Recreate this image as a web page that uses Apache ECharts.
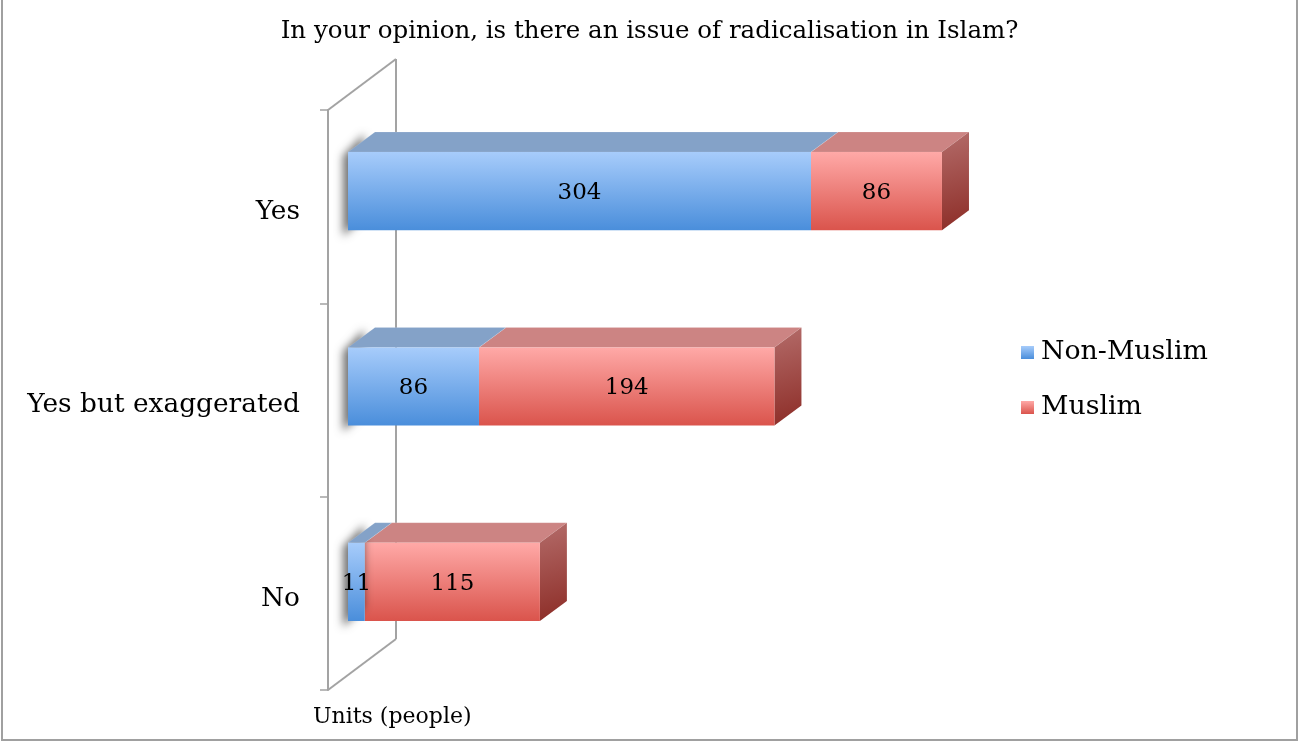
<!DOCTYPE html>
<html>
<head>
<meta charset="utf-8">
<script src="https://cdn.jsdelivr.net/npm/echarts@6/dist/echarts.min.js"></script>
<style>html,body{margin:0;padding:0;background:#fff}#c{width:1299px;height:742px}</style>
</head>
<body>
<div id="c"></div>
<script>
const title = 'In your opinion, is there an issue of radicalisation in Islam?';
const categories = ['Yes', 'Yes but exaggerated', 'No'];
const seriesNames = ['Non-Muslim', 'Muslim'];
const nonMuslim = [304, 86, 11];
const muslim = [86, 194, 115];
const axisTitle = 'Units (people)';

const SERIF = '"DejaVu Serif", "Liberation Serif", serif';
const DX = 27, DY = -20;
const FAR = 3000;

const blueFront = new echarts.graphic.LinearGradient(0,0,0,1,[{offset:0,color:'#a7ccfb'},{offset:1,color:'#4a8edb'}]);
const redFront = new echarts.graphic.LinearGradient(0,0,0,1,[{offset:0,color:'#ffa9a7'},{offset:1,color:'#da544c'}]);
const palettes = [
  {front: blueFront, top: '#84a2c8', side: new echarts.graphic.LinearGradient(0,0,1,1,[{offset:0,color:'#7f9cc4'},{offset:1,color:'#3b6ea8'}])},
  {front: redFront, top: '#cc8483', side: new echarts.graphic.LinearGradient(0,0,1,1,[{offset:0,color:'#b46c6a'},{offset:1,color:'#8c2c26'}])}
];

function buildData(vals, starts) {
  return vals.map((v, i) => [starts ? starts[i] : 0, (starts ? starts[i] : 0) + v, i, v]);
}
const dataNon = buildData(nonMuslim, null);
const dataMus = buildData(muslim, nonMuslim);

function makeRender(sIdx, isFirst, isLast) {
  return function (params, api) {
    const x0v = api.value(0), x1v = api.value(1), ci = api.value(2), v = api.value(3);
    const p0 = api.coord([x0v, ci]);
    const p1 = api.coord([x1v, ci]);
    const bh = api.size([0, 1])[1] * 0.4;
    const yT = p0[1] - bh / 2, yB = p0[1] + bh / 2;
    const xa = p0[0], xb = p1[0];
    const pal = palettes[sIdx];
    const children = [];
    if (isFirst) {
      const sx = xa - 5 - FAR, sy = 6;
      children.push({
        type: 'polygon',
        shape: {points: [[sx, yT + sy - 2], [sx + DX - 6, yT + DY + sy - 4], [sx + DX - 6, yB + DY + sy], [sx, yB + sy]]},
        style: {fill: '#000', shadowBlur: 9, shadowColor: 'rgba(0,0,0,0.55)', shadowOffsetX: FAR, shadowOffsetY: 0},
        z2: 0
      });
    }
    children.push({
      type: 'polygon',
      shape: {points: [[xa, yT], [xa + DX, yT + DY], [xb + DX, yT + DY], [xb, yT]]},
      style: {fill: pal.top, stroke: 'rgba(255,255,255,0.25)', lineWidth: 0.5},
      z2: 1
    });
    children.push({
      type: 'rect',
      shape: {x: xa, y: yT, width: xb - xa, height: yB - yT},
      style: {fill: pal.front},
      z2: 2
    });
    if (isLast) {
      children.push({
        type: 'polygon',
        shape: {points: [[xb, yT], [xb + DX, yT + DY], [xb + DX, yB + DY], [xb, yB]]},
        style: {fill: pal.side},
        z2: 1
      });
    }
    children.push({
      type: 'text',
      style: {text: String(v), x: (xa + xb) / 2, y: (yT + yB) / 2 + 2, align: 'center', verticalAlign: 'middle',
        font: '23px ' + SERIF, fill: '#000'},
      z2: 5
    });
    return {type: 'group', children: children};
  };
}

const WALL_X = 328, WALL_TOP = 110, WALL_BOT = 690, WALL_DX = 68, WALL_DY = -51;
const wallStyle = {stroke: '#a3a3a3', lineWidth: 2, fill: null};

const chart = echarts.init(document.getElementById('c'), null, {renderer: 'canvas'});
chart.setOption({
  backgroundColor: '#fff',
  animation: false,
  title: {
    text: title, left: 'center', top: 14,
    textStyle: {fontFamily: SERIF, fontWeight: 'normal', fontSize: 24.5, color: '#000'}
  },
  legend: {
    orient: 'vertical', left: 1016, top: 334, itemWidth: 13, itemHeight: 13, itemGap: 28,
    icon: 'rect',
    data: seriesNames,
    textStyle: {fontFamily: SERIF, fontSize: 26.8, color: '#000', padding: [0, 0, 0, 2]}
  },
  grid: [
    {left: 348, top: 93.5, width: 609.2, height: 586},
    {left: WALL_X, top: WALL_TOP, width: 10, height: WALL_BOT - WALL_TOP}
  ],
  xAxis: [
    {type: 'value', gridIndex: 0, min: 0, max: 400, show: false},
    {type: 'value', gridIndex: 1, min: 0, max: 1, show: false}
  ],
  yAxis: [
    {type: 'category', gridIndex: 0, data: categories, inverse: true, show: false},
    {type: 'category', gridIndex: 1, data: categories, inverse: true,
      axisLine: {show: true, lineStyle: {color: '#a3a3a3', width: 2}},
      axisTick: {show: true, length: 8, lineStyle: {color: '#a3a3a3', width: 1.5}},
      axisLabel: {
        margin: 28,
        formatter: function (v) { return '{c|' + v + '}'; },
        rich: {c: {fontFamily: SERIF, fontSize: 26.4, color: '#000', padding: [11, 0, 0, 0]}}
      },
      splitLine: {show: false}
    }
  ],
  graphic: [
    {type: 'line', shape: {x1: WALL_X, y1: WALL_TOP, x2: WALL_X + WALL_DX, y2: WALL_TOP + WALL_DY}, style: wallStyle, z: 1},
    {type: 'line', shape: {x1: WALL_X + WALL_DX, y1: WALL_TOP + WALL_DY, x2: WALL_X + WALL_DX, y2: WALL_BOT + WALL_DY}, style: wallStyle, z: 1},
    {type: 'line', shape: {x1: WALL_X, y1: WALL_BOT, x2: WALL_X + WALL_DX, y2: WALL_BOT + WALL_DY}, style: wallStyle, z: 1},
    {type: 'text', left: 313, top: 706, style: {text: axisTitle, font: '22px ' + SERIF, fill: '#000'}},
    {type: 'polyline', shape: {points: [[2, 0], [2, 740], [1297, 740], [1297, 0]]}, style: {stroke: '#a0a0a0', lineWidth: 2, fill: null}}
  ],
  series: [
    {name: seriesNames[0], type: 'custom', xAxisIndex: 0, yAxisIndex: 0, data: dataNon,
      encode: {x: [0, 1], y: 2}, itemStyle: {color: blueFront}, renderItem: makeRender(0, true, false), z: 3},
    {name: seriesNames[1], type: 'custom', xAxisIndex: 0, yAxisIndex: 0, data: dataMus,
      encode: {x: [0, 1], y: 2}, itemStyle: {color: redFront}, renderItem: makeRender(1, false, true), z: 2}
  ]
});
</script>
</body>
</html>
